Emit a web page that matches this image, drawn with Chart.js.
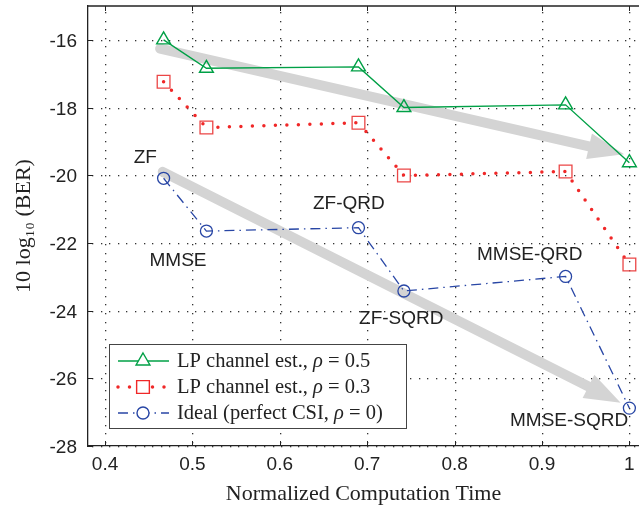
<!DOCTYPE html>
<html>
<head>
<meta charset="utf-8">
<script src="https://cdn.jsdelivr.net/npm/chart.js@4.4.1/dist/chart.umd.min.js"></script>
<style>
  html, body { margin: 0; padding: 0; background: #fff; }
  #wrap { width: 639px; height: 512px; position: relative; }
</style>
</head>
<body>
<div id="wrap"><canvas id="berChart"></canvas></div>
<script>
// Detector order along the x axis
const algorithms = ["ZF", "MMSE", "ZF-QRD", "ZF-SQRD", "MMSE-QRD", "MMSE-SQRD"];
const timeNorm = [0.467, 0.516, 0.690, 0.742, 0.927, 1.0];

// 10 log10(BER) for each channel estimate
const berRho05 = [-16.0, -16.84, -16.8, -18.0, -17.92, -19.63];
const berRho03 = [-17.24, -18.59, -18.45, -20.01, -19.89, -22.64];
const berIdeal = [-20.09, -21.65, -21.55, -23.42, -22.99, -26.88];

const seriesNames = ["LP channel est., ", "LP channel est., ", "Ideal (perfect CSI, "];
const seriesRho = [" = 0.5", " = 0.3", " = 0)"];

const xTicks = [0.4, 0.5, 0.6, 0.7, 0.8, 0.9, 1.0];
const yTicks = [-28, -26, -24, -22, -20, -18, -16];

// label anchors (data coords) for the detector names
const labelX = [0.446, 0.4835, 0.679, 0.739, 0.886, 0.931];
const labelY = [-19.48, -22.52, -20.84, -24.23, -22.34, -27.24];

// gray trend arrows: [x0, y0, x1, y1]
const arrowTop = [0.463, -16.26, 0.994, -19.38];
const arrowBottom = [0.466, -19.9, 0.99, -26.72];

const green = "rgb(0,160,70)";
const red = "rgb(240,40,40)";
const blue = "rgb(40,70,165)";
const ink = "#222";
const sans = "'Liberation Sans', Arial, sans-serif";
const serif = "'Liberation Serif', 'Times New Roman', serif";

function pts(ys) {
  return timeNorm.map((x, i) => ({ x: x, y: ys[i] }));
}

const dashRed = [0, 11.5];
const dashBlue = [10, 5, 1.5, 5];

const decorPlugin = {
  id: "decor",
  beforeDatasetsDraw(chart) {
    const { ctx, chartArea: ca, scales } = chart;
    const xs = scales.x, ys = scales.y;
    ctx.save();
    // dotted grid, drawn as small squares
    ctx.fillStyle = "#333";
    const step = 8.6;
    xTicks.forEach((t) => {
      const px = Math.round(xs.getPixelForValue(t));
      for (let y = ca.bottom - 4; y > ca.top; y -= step) {
        ctx.fillRect(px, Math.round(y), 1.3, 1.3);
      }
    });
    yTicks.forEach((t) => {
      const py = Math.round(ys.getPixelForValue(t));
      for (let x = ca.left + 4; x < ca.right; x += step) {
        ctx.fillRect(Math.round(x), py, 1.3, 1.3);
      }
    });

    [arrowTop, arrowBottom].forEach((a) => {
      const x0 = xs.getPixelForValue(a[0]), y0 = ys.getPixelForValue(a[1]);
      const x1 = xs.getPixelForValue(a[2]), y1 = ys.getPixelForValue(a[3]);
      const ang = Math.atan2(y1 - y0, x1 - x0);
      const headLen = 36, headW = 13;
      const bx = x1 - headLen * Math.cos(ang), by = y1 - headLen * Math.sin(ang);
      ctx.strokeStyle = "#d4d4d4";
      ctx.fillStyle = "#d4d4d4";
      ctx.lineWidth = 10;
      ctx.lineCap = "round";
      ctx.beginPath();
      ctx.moveTo(x0, y0);
      ctx.lineTo(bx, by);
      ctx.stroke();
      ctx.beginPath();
      ctx.moveTo(x1, y1);
      ctx.lineTo(bx + headW * Math.sin(ang), by - headW * Math.cos(ang));
      ctx.lineTo(bx - headW * Math.sin(ang), by + headW * Math.cos(ang));
      ctx.closePath();
      ctx.fill();
    });
    ctx.restore();
  },
  afterDatasetsDraw(chart) {
    const { ctx, chartArea: ca, scales } = chart;
    const xs = scales.x, ys = scales.y;
    ctx.save();
    // top border and inward ticks
    ctx.strokeStyle = ink;
    ctx.lineWidth = 1.3;
    ctx.beginPath();
    ctx.moveTo(ca.left, ca.top);
    ctx.lineTo(ca.right, ca.top);
    ctx.stroke();
    ctx.lineWidth = 1;
    ctx.beginPath();
    xTicks.forEach((t) => {
      const px = Math.round(xs.getPixelForValue(t)) + 0.5;
      ctx.moveTo(px, ca.bottom); ctx.lineTo(px, ca.bottom - 5);
      ctx.moveTo(px, ca.top); ctx.lineTo(px, ca.top + 5);
    });
    yTicks.forEach((t) => {
      const py = Math.round(ys.getPixelForValue(t)) + 0.5;
      ctx.moveTo(ca.left, py); ctx.lineTo(ca.left + 5, py);
    });
    ctx.stroke();

    // tick labels
    ctx.fillStyle = ink;
    ctx.font = "19px " + sans;
    ctx.textBaseline = "alphabetic";
    ctx.textAlign = "center";
    xTicks.forEach((t) => {
      ctx.fillText(String(+t.toFixed(1)), xs.getPixelForValue(t), ca.bottom + 24);
    });
    ctx.textAlign = "right";
    yTicks.forEach((t) => {
      ctx.fillText(String(t), ca.left - 11, ys.getPixelForValue(t) + 7);
    });

    // detector labels
    ctx.textAlign = "center";
    ctx.textBaseline = "middle";
    algorithms.forEach((name, i) => {
      ctx.fillText(name, xs.getPixelForValue(labelX[i]), ys.getPixelForValue(labelY[i]));
    });

    // legend box
    const lx = ca.left + 21, ly = ca.bottom - 102, lw = 297, lh = 84;
    ctx.fillStyle = "#fff";
    ctx.fillRect(lx, ly, lw, lh);
    ctx.strokeStyle = "#444";
    ctx.lineWidth = 1;
    ctx.strokeRect(lx + 0.5, ly + 0.5, lw, lh);
    const rows = [ly + 17, ly + 43, ly + 69];
    const colors = [green, red, blue];
    const dashes = [[], dashRed, dashBlue];
    const widths = [1.4, 3.5, 1.3];
    const styles = ["triangle", "rect", "circle"];
    const radii = [8, 9, 6];
    rows.forEach((ry, i) => {
      ctx.save();
      ctx.strokeStyle = colors[i];
      ctx.lineWidth = widths[i];
      ctx.lineCap = i === 1 ? "round" : "butt";
      ctx.setLineDash(dashes[i]);
      ctx.beginPath();
      ctx.moveTo(lx + 9, ry);
      ctx.lineTo(lx + 60, ry);
      ctx.stroke();
      ctx.setLineDash([]);
      ctx.lineWidth = 1.4;
      ctx.fillStyle = "#fff";
      Chart.helpers.drawPoint(ctx, { pointStyle: styles[i], radius: radii[i], rotation: 0, borderWidth: 1.4 }, lx + 34, ry);
      ctx.restore();
      ctx.fillStyle = ink;
      ctx.textAlign = "left";
      ctx.textBaseline = "middle";
      let tx = lx + 68;
      ctx.font = "20.5px " + serif;
      ctx.fillText(seriesNames[i], tx, ry + 1);
      tx += ctx.measureText(seriesNames[i]).width;
      ctx.font = "italic 20.5px " + serif;
      ctx.fillText("\u03C1", tx, ry + 1);
      tx += ctx.measureText("\u03C1").width;
      ctx.font = "20.5px " + serif;
      ctx.fillText(seriesRho[i], tx, ry + 1);
    });
    ctx.restore();
  }
};

const ctx = document.getElementById("berChart").getContext("2d");
new Chart(ctx, {
  type: "scatter",
  data: {
    datasets: [
      {
        label: "rho 0.5",
        data: pts(berRho05),
        showLine: true,
        borderColor: green,
        borderWidth: 1.4,
        pointStyle: "triangle",
        pointRadius: 8,
        pointBorderWidth: 1.4,
        pointBackgroundColor: "rgba(0,0,0,0)",
        pointBorderColor: green,
      },
      {
        label: "rho 0.3",
        data: pts(berRho03),
        showLine: true,
        borderColor: red,
        borderWidth: 3.5,
        borderDash: dashRed,
        borderCapStyle: "round",
        // restart the dot pattern at each vertex
        segment: { borderDashOffset: (c) => c.p0DataIndex * 0.001 },
        pointStyle: "rect",
        pointRadius: 9,
        pointBorderWidth: 1.3,
        pointBackgroundColor: "rgba(0,0,0,0)",
        pointBorderColor: "rgb(235,70,70)",
      },
      {
        label: "ideal",
        data: pts(berIdeal),
        showLine: true,
        borderColor: blue,
        borderWidth: 1.3,
        borderDash: dashBlue,
        pointStyle: "circle",
        pointRadius: 6,
        pointBorderWidth: 1.3,
        pointBackgroundColor: "rgba(0,0,0,0)",
        pointBorderColor: blue,
      },
    ],
  },
  options: {
    responsive: true,
    maintainAspectRatio: false,
    animation: false,
    layout: { autoPadding: false, padding: { top: 6, right: 0, left: 0, bottom: 0 } },
    plugins: {
      legend: { display: false },
      tooltip: { enabled: false },
    },
    scales: {
      x: {
        type: "linear",
        min: 0.3805,
        max: 1.011,
        afterFit: (s) => { s.height = 66; },
        grid: { display: false },
        border: { display: true, color: ink, width: 1.3 },
        ticks: { display: false },
        title: {
          display: true,
          text: "Normalized Computation Time",
          color: ink,
          font: { family: serif, size: 22 },
          padding: { top: 0, bottom: 5 },
        },
      },
      y: {
        min: -28,
        max: -15,
        afterFit: (s) => { s.width = 88; },
        grid: { display: false },
        border: { display: true, color: ink, width: 1.3 },
        ticks: { display: false },
        title: {
          display: true,
          text: "10 log\u2081\u2080 (BER)",
          color: ink,
          font: { family: serif, size: 22 },
          padding: { top: 11, bottom: 0 },
        },
      },
    },
  },
  plugins: [decorPlugin],
});
</script>
</body>
</html>
